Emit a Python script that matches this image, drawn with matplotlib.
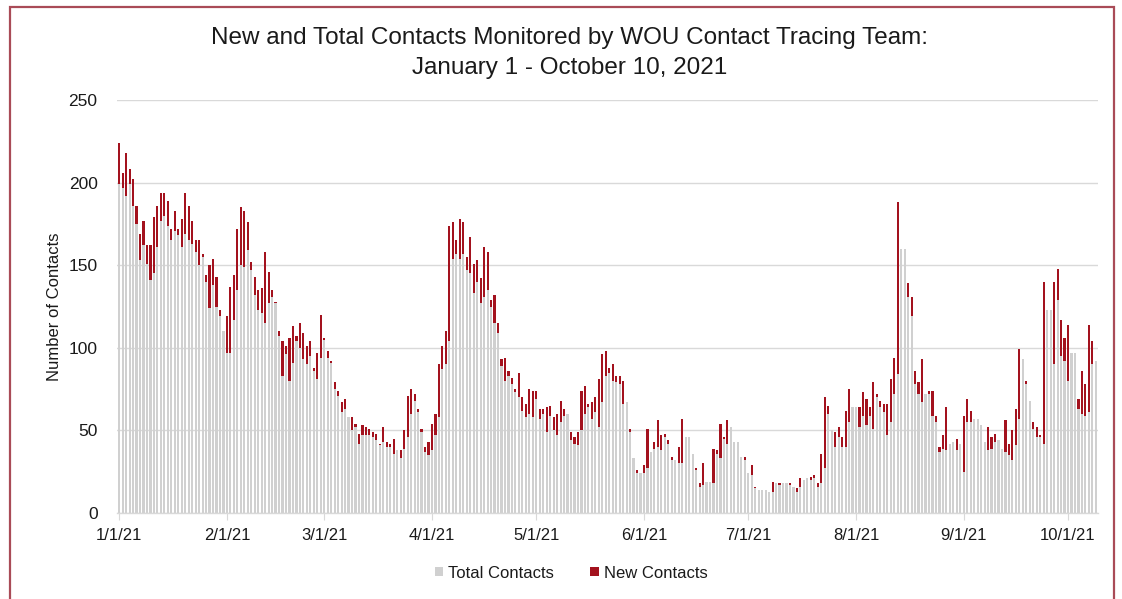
import matplotlib
matplotlib.use("Agg")
import matplotlib.pyplot as plt
from matplotlib.patches import Rectangle, Patch
import pandas as pd

plt.rcParams['font.family'] = ['Liberation Sans', 'DejaVu Sans']

# ---- data ----
start_date = "2021-01-01"
total_contacts = [
    199, 197, 192, 199, 186, 175, 153, 162, 151, 141, 145, 161, 177, 180, 174, 165, 171, 168, 161, 169,
    165, 163, 158, 150, 155, 140, 124, 138, 125, 119, 110, 97, 97, 117, 135, 150, 149, 159, 147, 132,
    123, 121, 115, 127, 131, 127, 107, 83, 96, 80, 91, 104, 100, 93, 90, 95, 86, 81, 94, 105,
    94, 91, 75, 71, 61, 63, 58, 50, 52, 42, 47, 47, 47, 46, 44, 41, 43, 40, 40, 36,
    38, 33, 39, 46, 60, 68, 61, 49, 37, 35, 38, 47, 58, 87, 90, 104, 154, 157, 154, 157,
    147, 145, 133, 140, 127, 131, 135, 125, 115, 109, 89, 80, 83, 78, 73, 70, 62, 58, 60, 58,
    69, 57, 60, 49, 59, 50, 47, 55, 59, 60, 44, 42, 41, 50, 60, 64, 57, 61, 52, 67,
    83, 85, 80, 79, 78, 66, 67, 49, 33, 24, 24, 24, 27, 37, 39, 40, 38, 46, 42, 32,
    32, 30, 30, 46, 46, 36, 26, 16, 17, 19, 19, 18, 36, 33, 45, 42, 52, 43, 43, 34,
    32, 24, 23, 15, 14, 14, 14, 13, 13, 18, 17, 18, 18, 17, 16, 13, 16, 20, 21, 20,
    21, 16, 18, 27, 60, 50, 40, 46, 40, 40, 55, 64, 64, 52, 59, 53, 59, 51, 70, 64,
    61, 47, 55, 72, 84, 160, 160, 131, 119, 78, 72, 67, 72, 72, 59, 55, 37, 39, 38, 42,
    43, 38, 42, 25, 55, 55, 57, 57, 53, 43, 38, 39, 43, 44, 39, 37, 35, 32, 41, 57,
    93, 78, 68, 51, 46, 46, 42, 123, 123, 90, 129, 95, 92, 80, 97, 97, 63, 60, 59, 61,
    90, 92,
]
new_contacts = [
    25, 9, 26, 9, 16, 11, 16, 15, 11, 21, 34, 25, 17, 14, 15, 7, 12, 4, 17, 25,
    21, 14, 7, 15, 2, 4, 26, 16, 18, 4, 0, 22, 40, 27, 37, 35, 34, 17, 5, 11,
    12, 15, 43, 19, 4, 1, 3, 21, 5, 26, 22, 3, 15, 16, 11, 9, 2, 16, 26, 1,
    4, 1, 4, 3, 6, 6, 0, 8, 2, 6, 6, 5, 4, 3, 4, 1, 9, 3, 2, 9,
    0, 5, 11, 25, 15, 4, 2, 2, 3, 8, 16, 13, 32, 14, 20, 70, 22, 8, 24, 19,
    8, 22, 18, 13, 15, 30, 23, 4, 17, 6, 4, 14, 3, 4, 2, 15, 8, 8, 15, 16,
    5, 6, 3, 15, 6, 8, 13, 13, 4, 0, 5, 4, 8, 24, 17, 2, 10, 9, 29, 29,
    15, 3, 10, 4, 5, 14, 0, 2, 0, 2, 0, 5, 24, 0, 4, 16, 9, 2, 2, 2,
    0, 10, 27, 0, 0, 0, 1, 2, 13, 0, 0, 21, 2, 21, 1, 14, 0, 0, 0, 0,
    2, 0, 6, 1, 0, 0, 0, 0, 6, 0, 1, 0, 0, 1, 0, 2, 5, 0, 0, 2,
    2, 2, 18, 43, 5, 0, 9, 6, 6, 22, 20, 0, 0, 12, 14, 16, 5, 28, 2, 4,
    5, 19, 26, 22, 104, 0, 0, 8, 12, 8, 7, 26, 0, 2, 15, 4, 3, 8, 26, 0,
    0, 7, 0, 34, 14, 7, 0, 0, 0, 0, 14, 7, 5, 0, 0, 19, 7, 18, 22, 42,
    0, 2, 0, 4, 6, 1, 98, 0, 0, 50, 19, 22, 14, 34, 0, 0, 6, 26, 19, 53,
    14, 0,
]
tick_labels = ["1/1/21", "2/1/21", "3/1/21", "4/1/21", "5/1/21",
               "6/1/21", "7/1/21", "8/1/21", "9/1/21", "10/1/21"]
y_ticks = [0, 50, 100, 150, 200, 250]
series_names = ["Total Contacts", "New Contacts"]

# ---- styling ----
GRAY = "#d0d0d0"
RED = "#a3121e"
GRID = "#d9d9d9"
TEXT = "#1a1a1a"

dates = pd.date_range(start_date, periods=len(total_contacts), freq="D")
tick_dates = pd.to_datetime(tick_labels, format="%m/%d/%y")

W, H = 1122, 599
fig = plt.figure(figsize=(W / 100, H / 100), dpi=100)
ax = fig.add_axes([117 / W, 1 - 513 / H, (1098 - 117) / W, (513 - 100) / H])

ax.bar(dates, total_contacts, width=0.62, color=GRAY, linewidth=0, zorder=2)
ax.bar(dates, new_contacts, bottom=total_contacts, width=0.62, color=RED,
       linewidth=0, zorder=2)

ax.set_ylim(0, 250)
ax.set_yticks(y_ticks)
ax.yaxis.grid(True, color=GRID, linewidth=1.0, zorder=0)
ax.set_axisbelow(True)
ax.set_xlim(dates[0] - pd.Timedelta(hours=15), dates[-1] + pd.Timedelta(hours=15))
ax.set_xticks(tick_dates)
ax.set_xticklabels(tick_labels)

for s in ["top", "right", "left"]:
    ax.spines[s].set_visible(False)
ax.spines["bottom"].set_color(GRID)
ax.spines["bottom"].set_linewidth(1.0)
ax.tick_params(axis="y", length=0, pad=14, labelsize=12.5, labelcolor=TEXT)
ax.tick_params(axis="x", length=5, color=GRID, pad=6, labelsize=12, labelcolor=TEXT)

fig.text(55 / W, 1 - 307 / H, "Number of Contacts", rotation=90, ha="center",
         va="center", fontsize=12, color=TEXT)

fig.text(0.508, 1 - 38 / H, "New and Total Contacts Monitored by WOU Contact Tracing Team:",
         ha="center", va="center", fontsize=17.5, color=TEXT)
fig.text(0.508, 1 - 68 / H, "January 1 - October 10, 2021",
         ha="center", va="center", fontsize=17.5, color=TEXT)

handles = [Patch(facecolor=GRAY, edgecolor="none"), Patch(facecolor=RED, edgecolor="none")]
fig.legend(handles, series_names, loc="center", bbox_to_anchor=(0.509, 1 - 573 / H),
           ncol=2, frameon=False, fontsize=12, handlelength=0.5, handleheight=0.5,
           handletextpad=0.3, columnspacing=2.2, labelcolor=TEXT)

fig.patches.append(Rectangle((10 / W, -0.05), (1114 - 10) / W, 1.05 - 7 / H,
                             transform=fig.transFigure, fill=False,
                             edgecolor="#a94b57", linewidth=1.6))

fig.savefig("out.png", dpi=100)
